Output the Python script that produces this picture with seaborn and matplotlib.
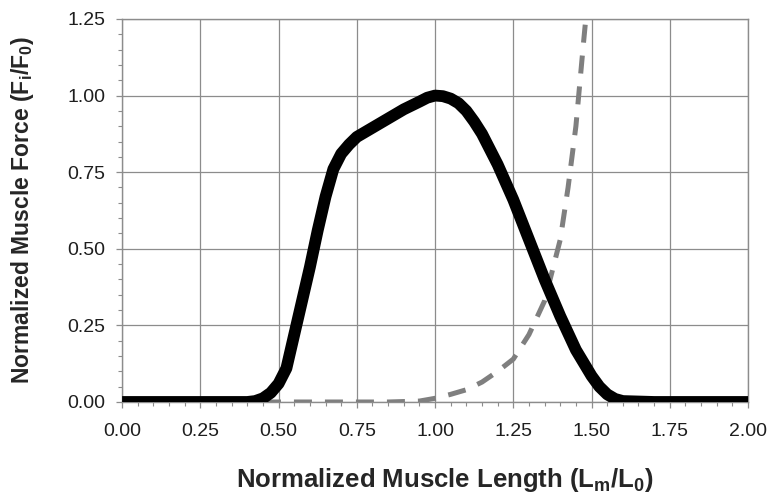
import numpy as np
import pandas as pd
import matplotlib
matplotlib.use("Agg")
import matplotlib.pyplot as plt
import seaborn as sns
from matplotlib.ticker import MultipleLocator

# active force-length curve (solid black)
active_len = [0.00, 0.10, 0.20, 0.30, 0.40, 0.425, 0.45, 0.475, 0.50, 0.525, 0.55, 0.575,
              0.60, 0.625, 0.65, 0.675, 0.70, 0.725, 0.75, 0.80, 0.85, 0.90, 0.95, 0.975,
              1.00, 1.025, 1.05, 1.075, 1.10, 1.125, 1.15, 1.20, 1.25, 1.30, 1.35, 1.40,
              1.45, 1.50, 1.525, 1.55, 1.575, 1.60, 1.70, 1.80, 1.90, 2.00]
active_force = [0.0, 0.0, 0.0, 0.0, 0.0, 0.003, 0.012, 0.03, 0.06, 0.11, 0.22, 0.33,
                0.44, 0.56, 0.67, 0.76, 0.81, 0.84, 0.865, 0.895, 0.925, 0.955, 0.98, 0.993,
                1.00, 0.998, 0.99, 0.975, 0.95, 0.915, 0.875, 0.775, 0.66, 0.53, 0.40, 0.28,
                0.17, 0.085, 0.05, 0.025, 0.01, 0.003, 0.0, 0.0, 0.0, 0.0]

# passive force-length curve (grey dashed)
passive_len = [0.45, 0.55, 0.65, 0.75, 0.85, 0.95, 1.00, 1.05, 1.10, 1.15, 1.20, 1.25,
               1.30, 1.35, 1.40, 1.425, 1.45, 1.475, 1.49]
passive_force = [0.0, 0.0, 0.0, 0.0, 0.0, 0.003, 0.012, 0.025, 0.04, 0.065, 0.10, 0.14,
                 0.22, 0.33, 0.53, 0.70, 0.90, 1.18, 1.34]

x_ticks = [0.00, 0.25, 0.50, 0.75, 1.00, 1.25, 1.50, 1.75, 2.00]
y_ticks = [0.00, 0.25, 0.50, 0.75, 1.00, 1.25]

sns.set_style("white")
plt.rcParams['font.family'] = ['Liberation Sans', 'DejaVu Sans']
plt.rcParams['mathtext.fontset'] = 'custom'
plt.rcParams['mathtext.rm'] = 'Liberation Sans:bold'
plt.rcParams['mathtext.bf'] = 'Liberation Sans:bold'
plt.rcParams['mathtext.it'] = 'Liberation Sans:bold'

active = pd.DataFrame({"length": active_len, "force": active_force})
passive = pd.DataFrame({"length": passive_len, "force": passive_force})

fig = plt.figure(figsize=(7.68, 5.04), dpi=100)
ax = fig.add_axes([0.159, 0.2024, 0.815, 0.760])

sns.lineplot(data=passive, x="length", y="force", ax=ax, color="#7f7f7f",
             linewidth=3.6, dashes=False, zorder=3)
ax.lines[-1].set_dashes((3.6, 2.6))
sns.lineplot(data=active, x="length", y="force", ax=ax, color="black",
             linewidth=8.5, zorder=4, solid_capstyle="butt", solid_joinstyle="round")

ax.set_xlim(0, 2.0)
ax.set_ylim(0, 1.25)
ax.set_xticks(x_ticks)
ax.set_yticks(y_ticks)
ax.set_xticklabels([f"{t:.2f}" for t in x_ticks])
ax.set_yticklabels([f"{t:.2f}" for t in y_ticks])
ax.xaxis.set_minor_locator(MultipleLocator(0.05))
ax.yaxis.set_minor_locator(MultipleLocator(0.05))
ax.grid(True, which="major", color="#8c8c8c", linewidth=0.9)
ax.set_axisbelow(True)
for s in ax.spines.values():
    s.set_color("#8c8c8c")
    s.set_linewidth(1.0)
ax.tick_params(axis="both", which="major", direction="out", length=4, width=0.9,
               color="#8c8c8c", labelsize=14, labelcolor="#1e1e1e")
ax.tick_params(axis="x", which="major", pad=11)
ax.tick_params(axis="y", which="major", pad=8)
ax.tick_params(axis="both", which="minor", direction="out", length=3, width=0.8,
               color="#8c8c8c")
ax.tick_params(axis="x", which="both", bottom=True)
ax.tick_params(axis="y", which="both", left=True)

ax.set_xlabel(r"Normalized Muscle Length (L$_{\mathbf{m}}$/L$_{\mathbf{0}}$)",
              fontsize=18.5, fontweight="bold")
ax.xaxis.set_label_coords(0.516, -0.168)
ax.set_ylabel(r"Normalized Muscle Force (F$_{\mathbf{i}}$/F$_{\mathbf{0}}$)",
              fontsize=16.5, fontweight="bold", labelpad=23)

fig.savefig("out.png", dpi=100)
